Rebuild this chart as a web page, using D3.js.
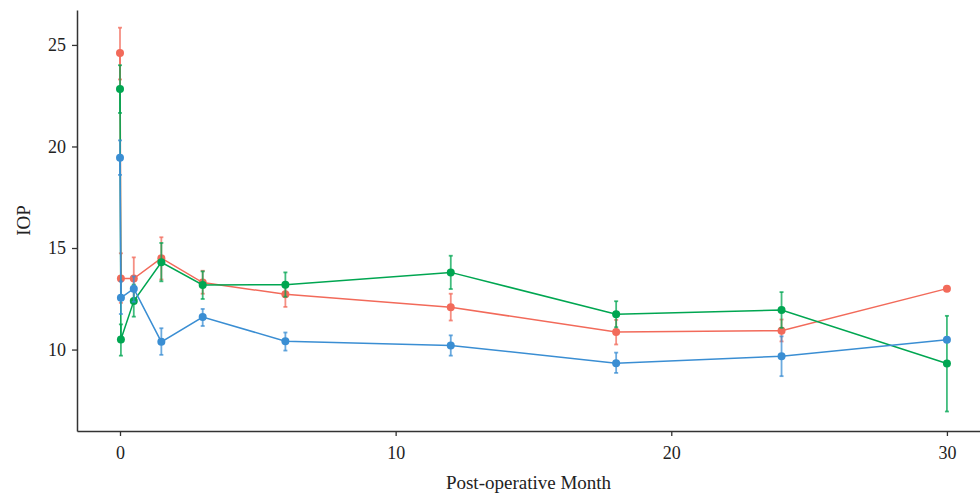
<!DOCTYPE html>
<html>
<head>
<meta charset="utf-8">
<script src="https://cdn.jsdelivr.net/npm/d3@7"></script>
<style>
  body { margin: 0; background: #fff; }
  text { font-family: "Liberation Serif", "DejaVu Serif", serif; }
</style>
</head>
<body>
<svg id="chart" width="980" height="500"></svg>
<script>
// follow-up time points (months); 0 = pre-op, 0.033 = day 1
var months = [0, 0.033, 0.5, 1.5, 3, 6, 12, 18, 24, 30];

var redMean = [24.6, 13.5, 13.5, 14.5, 13.3, 12.72, 12.08, 10.87, 10.93, 13.0];
var redLow  = [23.3, 12.3, 12.5, 13.45, 12.75, 12.1, 11.43, 10.25, 10.4, 13.0];
var redHigh = [25.85, 14.74, 14.54, 15.53, 13.88, 13.3, 12.75, 11.46, 11.48, 13.0];

var greenMean = [22.83, 10.49, 12.39, 14.3, 13.18, 13.19, 13.8, 11.74, 11.95, 9.31];
var greenLow  = [21.65, 9.7, 11.62, 13.36, 12.49, 12.6, 12.98, 11.1, 11.07, 6.95];
var greenHigh = [24.0, 11.24, 13.2, 15.25, 13.85, 13.8, 14.62, 12.38, 12.83, 11.66];

var blueMean = [19.45, 12.55, 13.0, 10.38, 11.6, 10.41, 10.2, 9.33, 9.67, 10.48];
var blueLow  = [18.6, 11.75, 12.35, 9.74, 11.16, 9.95, 9.7, 8.85, 8.69, 10.48];
var blueHigh = [20.3, 13.35, 13.6, 11.05, 12.0, 10.84, 10.7, 9.85, 10.65, 10.48];

var xTicks = [0, 10, 20, 30];
var yTicks = [10, 15, 20, 25];

var series = [
  {color: "#f26a5a", mean: redMean, low: redLow, high: redHigh},
  {color: "#00a651", mean: greenMean, low: greenLow, high: greenHigh},
  {color: "#3a8ed3", mean: blueMean, low: blueLow, high: blueHigh}
];

var svg = d3.select("#chart");

var plotLeft = 77, plotRight = 980, plotTop = 10, plotBottom = 431;

var x = d3.scaleLinear().domain([-1.56, 31.2]).range([plotLeft, plotRight]);
var y = d3.scaleLinear().domain([5.99, 26.72]).range([plotBottom, plotTop]);

// axes
var xAxis = svg.append("g")
    .attr("transform", "translate(0," + plotBottom + ")")
    .call(d3.axisBottom(x).tickValues(xTicks).tickSize(5).tickPadding(10).tickSizeOuter(0));
var yAxis = svg.append("g")
    .attr("transform", "translate(" + plotLeft + ",0)")
    .call(d3.axisLeft(y).tickValues(yTicks).tickSize(5).tickPadding(6).tickSizeOuter(0));

[xAxis, yAxis].forEach(function(a) {
  a.select(".domain").attr("stroke", "#333").attr("stroke-width", 1.5);
  a.selectAll(".tick line").attr("stroke", "#333").attr("stroke-width", 1.3);
  a.selectAll(".tick text").attr("fill", "#222")
    .attr("font-size", 18)
    .attr("font-family", "'Liberation Serif', serif");
});

svg.append("text")
    .attr("x", (plotLeft + plotRight) / 2)
    .attr("y", 489)
    .attr("text-anchor", "middle")
    .attr("fill", "#222")
    .attr("font-size", 19)
    .text("Post-operative Month");

svg.append("text")
    .attr("transform", "translate(30," + ((plotTop + plotBottom) / 2) + ") rotate(-90)")
    .attr("text-anchor", "middle")
    .attr("fill", "#222")
    .attr("font-size", 19)
    .text("IOP");

var line = d3.line()
    .x(function(d) { return x(d.m); })
    .y(function(d) { return y(d.v); });

series.forEach(function(s) {
  var pts = months.map(function(m, i) {
    return {m: m, v: s.mean[i], lo: s.low[i], hi: s.high[i]};
  });
  var g = svg.append("g");

  // error bars
  var eb = g.selectAll(".err").data(pts.filter(function(d) { return d.hi > d.lo; }))
    .enter().append("g")
    .attr("stroke", s.color)
    .attr("stroke-opacity", 0.75)
    .attr("stroke-width", 1.8);
  eb.append("line")
    .attr("x1", function(d) { return x(d.m); })
    .attr("x2", function(d) { return x(d.m); })
    .attr("y1", function(d) { return y(d.lo); })
    .attr("y2", function(d) { return y(d.hi); });
  eb.append("line")
    .attr("x1", function(d) { return x(d.m) - 2; })
    .attr("x2", function(d) { return x(d.m) + 2; })
    .attr("y1", function(d) { return y(d.lo); })
    .attr("y2", function(d) { return y(d.lo); });
  eb.append("line")
    .attr("x1", function(d) { return x(d.m) - 2; })
    .attr("x2", function(d) { return x(d.m) + 2; })
    .attr("y1", function(d) { return y(d.hi); })
    .attr("y2", function(d) { return y(d.hi); });

  g.append("path")
    .datum(pts)
    .attr("fill", "none")
    .attr("stroke", s.color)
    .attr("stroke-width", 1.5)
    .attr("d", line);

  g.selectAll(".dot").data(pts)
    .enter().append("circle")
    .attr("cx", function(d) { return x(d.m); })
    .attr("cy", function(d) { return y(d.v); })
    .attr("r", 4)
    .attr("fill", s.color);
});
</script>
</body>
</html>
